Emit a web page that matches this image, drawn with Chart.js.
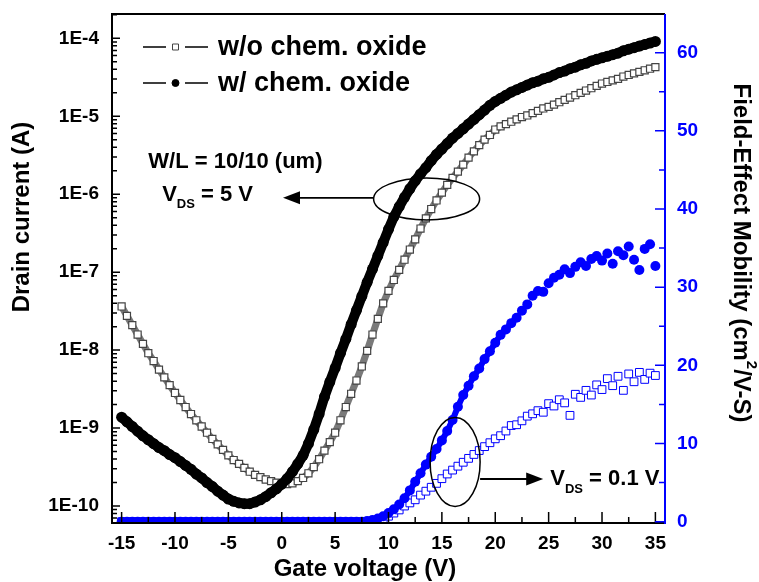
<!DOCTYPE html>
<html>
<head>
<meta charset="utf-8">
<script src="https://cdn.jsdelivr.net/npm/chart.js@4.4.0/dist/chart.umd.min.js"></script>
<style>
  html, body { margin: 0; padding: 0; background: #fff; }
</style>
</head>
<body>
<canvas id="chart" width="759" height="582"></canvas>
<script>
// gate sweep (V)
const gateVoltage = [
  -15, -14.5, -14, -13.5, -13, -12.5, -12, -11.5, -11, -10.5,
  -10, -9.5, -9, -8.5, -8, -7.5, -7, -6.5, -6, -5.5,
  -5, -4.5, -4, -3.5, -3, -2.5, -2, -1.5, -1, -0.5,
  0, 0.5, 1, 1.5, 2, 2.5, 3, 3.5, 4, 4.5,
  5, 5.5, 6, 6.5, 7, 7.5, 8, 8.5, 9, 9.5,
  10, 10.5, 11, 11.5, 12, 12.5, 13, 13.5, 14, 14.5,
  15, 15.5, 16, 16.5, 17, 17.5, 18, 18.5, 19, 19.5,
  20, 20.5, 21, 21.5, 22, 22.5, 23, 23.5, 24, 24.5,
  25, 25.5, 26, 26.5, 27, 27.5, 28, 28.5, 29, 29.5,
  30, 30.5, 31, 31.5, 32, 32.5, 33, 33.5, 34, 34.5,
  35
];

// drain current, read as log10(A)
const logDrainWithout = [
  -7.44, -7.56, -7.68, -7.80, -7.92, -8.04, -8.14, -8.25, -8.35, -8.45,
  -8.55, -8.64, -8.73, -8.82, -8.90, -8.98, -9.06, -9.14, -9.21, -9.28,
  -9.35, -9.41, -9.46, -9.51, -9.56, -9.60, -9.63, -9.66, -9.68, -9.70,
  -9.71, -9.72, -9.71, -9.68, -9.64, -9.58, -9.50, -9.40, -9.29, -9.18,
  -9.06, -8.90, -8.73, -8.56, -8.39, -8.21, -8.01, -7.80, -7.60, -7.40,
  -7.24, -7.10, -6.97, -6.84, -6.71, -6.58, -6.44, -6.31, -6.19, -6.08,
  -5.98, -5.88, -5.79, -5.71, -5.62, -5.53, -5.45, -5.37, -5.30, -5.24,
  -5.17, -5.13, -5.10, -5.07, -5.04, -5.01, -4.99, -4.96, -4.93, -4.90,
  -4.88, -4.85, -4.82, -4.79, -4.76, -4.73, -4.70, -4.67, -4.64, -4.61,
  -4.58, -4.56, -4.54, -4.52, -4.49, -4.47, -4.45, -4.43, -4.41, -4.39,
  -4.37
];
const logDrainWith = [
  -8.86, -8.92, -8.98, -9.04, -9.10, -9.15, -9.20, -9.25, -9.29, -9.34,
  -9.38, -9.43, -9.48, -9.53, -9.59, -9.64, -9.70, -9.75, -9.81, -9.86,
  -9.91, -9.94, -9.96, -9.97, -9.97, -9.95, -9.92, -9.88, -9.83, -9.78,
  -9.72, -9.65, -9.56, -9.46, -9.35, -9.20, -9.02, -8.82, -8.60, -8.41,
  -8.23, -8.04, -7.86, -7.67, -7.49, -7.31, -7.13, -6.96, -6.79, -6.62,
  -6.45, -6.29, -6.16, -6.04, -5.93, -5.83, -5.74, -5.66, -5.57, -5.49,
  -5.42, -5.35, -5.28, -5.22, -5.16, -5.10, -5.04, -4.98, -4.92, -4.86,
  -4.81, -4.77, -4.73, -4.69, -4.66, -4.63, -4.60, -4.57, -4.55, -4.52,
  -4.50, -4.47, -4.44, -4.42, -4.39, -4.37, -4.34, -4.32, -4.29, -4.27,
  -4.25, -4.23, -4.21, -4.19, -4.16, -4.14, -4.12, -4.10, -4.08, -4.06,
  -4.04
];

// field-effect mobility (cm2/V-s)
const mobilityWithout = [
  0, 0, 0, 0, 0, 0, 0, 0, 0, 0,
  0, 0, 0, 0, 0, 0, 0, 0, 0, 0,
  0, 0, 0, 0, 0, 0, 0, 0, 0, 0,
  0, 0, 0, 0, 0, 0, 0, 0, 0, 0,
  0, 0, 0, 0, 0, 0, 0, 0.1, 0.2, 0.4,
  0.7, 1.1, 1.5, 2.0, 2.4, 2.8, 3.4, 3.9, 4.4, 4.9,
  5.5, 6.1, 6.6, 7.1, 7.6, 8.1, 8.6, 9.1, 9.6, 10.1,
  10.6, 11.0, 11.6, 12.3, 12.4, 12.9, 13.5, 13.8, 14.2, 14.0,
  15.1, 14.8, 15.6, 15.2, 13.6, 16.3, 15.9, 16.8, 16.2, 17.5,
  16.9, 18.3, 17.4, 18.6, 16.8, 18.9, 17.9, 19.1, 18.2, 19.0,
  18.7
];
const mobilityWith = [
  0, 0, 0, 0, 0, 0, 0, 0, 0, 0,
  0, 0, 0, 0, 0, 0, 0, 0, 0, 0,
  0, 0, 0, 0, 0, 0, 0, 0, 0, 0,
  0, 0, 0, 0, 0, 0, 0, 0, 0, 0,
  0, 0, 0, 0, 0, 0, 0.1, 0.2, 0.4, 0.7,
  1.1, 1.6, 2.2, 3.0, 4.0, 5.1, 6.2, 7.3, 8.3, 9.3,
  10.4, 11.6, 13.0, 14.7, 16.2, 17.4, 18.6, 19.6, 20.8, 21.8,
  22.9, 23.9, 24.6, 25.4, 26.1, 27.0, 27.8, 28.9, 29.5, 29.4,
  30.5, 31.2, 31.6, 32.3, 31.8, 32.6, 33.2, 32.7, 33.6, 34.0,
  33.4, 34.3, 33.0, 34.6, 34.1, 35.2, 33.5, 32.2, 34.9, 35.5,
  32.7
];

const gateTicks = [-15, -10, -5, 0, 5, 10, 15, 20, 25, 30, 35];
const currentTicks = [1e-10, 1e-9, 1e-8, 1e-7, 1e-6, 1e-5, 1e-4];
const mobilityTicks = [0, 10, 20, 30, 40, 50, 60];

const FONT = "'Liberation Sans', Arial, sans-serif";
const BLUE = "#0000ff";

function toPoints(ys, fn) {
  return gateVoltage.map(function(v, i) {
    return { x: v, y: fn ? fn(ys[i]) : ys[i] };
  });
}
const fromLog = function(l) { return Math.pow(10, l); };

function noPadding(scale) {
  scale.paddingTop = 0;
  scale.paddingBottom = 0;
  scale.paddingLeft = 0;
  scale.paddingRight = 0;
}

// frame, inward ticks, legend, titles and annotations
const decorations = {
  id: "decorations",
  afterDatasetsDraw(chart) {
    const ctx = chart.ctx;
    const a = chart.chartArea;
    const sx = chart.scales.x, sy = chart.scales.y, sr = chart.scales.y1;
    ctx.save();

    // black frame (left, top, bottom)
    ctx.strokeStyle = "#000";
    ctx.lineWidth = 2;
    ctx.beginPath();
    ctx.moveTo(a.right, a.top);
    ctx.lineTo(a.left, a.top);
    ctx.lineTo(a.left, a.bottom);
    ctx.lineTo(a.right, a.bottom);
    ctx.stroke();

    // x ticks (inward, major + minor)
    ctx.lineWidth = 1.5;
    ctx.beginPath();
    sx.ticks.forEach(function(t, i) {
      const px = sx.getPixelForValue(t.value);
      ctx.moveTo(px, a.bottom);
      ctx.lineTo(px, a.bottom - 11);
      if (i < sx.ticks.length - 1) {
        const mx = sx.getPixelForValue((t.value + sx.ticks[i + 1].value) / 2);
        ctx.moveTo(mx, a.bottom);
        ctx.lineTo(mx, a.bottom - 6);
      }
    });
    ctx.stroke();

    // left log ticks
    ctx.beginPath();
    sy.ticks.forEach(function(t) {
      const py = sy.getPixelForValue(t.value);
      ctx.moveTo(a.left, py);
      ctx.lineTo(a.left + 8, py);
    });
    [1e-11].concat(currentTicks).forEach(function(dec) {
      for (let k = 2; k <= 9; k++) {
        const v = dec * k;
        if (v < sy.min || v > sy.max) continue;
        const py = sy.getPixelForValue(v);
        ctx.moveTo(a.left, py);
        ctx.lineTo(a.left + 5, py);
      }
    });
    ctx.stroke();

    // right blue axis
    ctx.strokeStyle = BLUE;
    ctx.lineWidth = 2;
    ctx.beginPath();
    ctx.moveTo(a.right, a.top);
    ctx.lineTo(a.right, a.bottom + 1);
    ctx.stroke();
    ctx.lineWidth = 1.5;
    ctx.beginPath();
    sr.ticks.forEach(function(t, i) {
      const py = sr.getPixelForValue(t.value);
      ctx.moveTo(a.right, py);
      ctx.lineTo(a.right - 10, py);
      if (i < sr.ticks.length - 1) {
        const my = sr.getPixelForValue((t.value + sr.ticks[i + 1].value) / 2);
        ctx.moveTo(a.right, my);
        ctx.lineTo(a.right - 6, my);
      }
    });
    ctx.stroke();

    // legend
    const ds = chart.data.datasets;
    const rows = [
      { d: ds[0], y: a.top + 33, text: "w/o chem. oxide" },
      { d: ds[1], y: a.top + 69, text: "w/ chem. oxide" }
    ];
    const lx = a.left + 31;
    rows.forEach(function(r) {
      ctx.strokeStyle = "#000";
      ctx.lineWidth = 1.5;
      ctx.beginPath();
      ctx.moveTo(lx, r.y); ctx.lineTo(lx + 23, r.y);
      ctx.moveTo(lx + 42, r.y); ctx.lineTo(lx + 65, r.y);
      ctx.stroke();
      ctx.fillStyle = r.d.pointBackgroundColor;
      ctx.strokeStyle = r.d.pointBorderColor;
      ctx.lineWidth = 1;
      ctx.beginPath();
      if (r.d.pointStyle === "rect") {
        ctx.rect(lx + 29.5, r.y - 3, 6, 6);
      } else {
        ctx.arc(lx + 32.5, r.y, 3.5, 0, Math.PI * 2);
      }
      ctx.fill();
      ctx.stroke();
      ctx.fillStyle = "#000";
      ctx.font = "bold 27px " + FONT;
      ctx.textAlign = "left";
      ctx.textBaseline = "middle";
      ctx.fillText(r.text, lx + 75, r.y + 1);
    });

    // axis titles
    ctx.fillStyle = "#000";
    ctx.font = "bold 24px " + FONT;
    ctx.textAlign = "center";
    ctx.textBaseline = "middle";
    ctx.fillText("Gate voltage (V)", 365, 569);
    ctx.save();
    ctx.translate(22, 217);
    ctx.rotate(-Math.PI / 2);
    ctx.fillText("Drain current (A)", 0, 0);
    ctx.restore();

    ctx.save();
    ctx.translate(741, 253);
    ctx.rotate(Math.PI / 2);
    const p1 = "Field-Effect Mobility (cm", p2 = "2", p3 = "/V-S)";
    ctx.font = "bold 24px " + FONT;
    const w1 = ctx.measureText(p1).width, w3 = ctx.measureText(p3).width;
    ctx.font = "bold 15px " + FONT;
    const w2 = ctx.measureText(p2).width;
    const cx = -(w1 + w2 + w3) / 2;
    ctx.textAlign = "left";
    ctx.font = "bold 24px " + FONT;
    ctx.fillText(p1, cx, 0);
    ctx.font = "bold 15px " + FONT;
    ctx.fillText(p2, cx + w1, -10);
    ctx.font = "bold 24px " + FONT;
    ctx.fillText(p3, cx + w1 + w2, 0);
    ctx.restore();

    // annotations (anchored in data units)
    function ellipse(xv, yPx, rx, ry) {
      ctx.strokeStyle = "#000";
      ctx.lineWidth = 1.5;
      ctx.beginPath();
      ctx.ellipse(sx.getPixelForValue(xv), yPx, rx, ry, 0, 0, Math.PI * 2);
      ctx.stroke();
    }
    function arrow(x1v, x2v, yPx) {
      const x1 = sx.getPixelForValue(x1v), x2 = sx.getPixelForValue(x2v);
      const dir = x2 > x1 ? 1 : -1;
      ctx.strokeStyle = "#000";
      ctx.fillStyle = "#000";
      ctx.lineWidth = 1.8;
      ctx.beginPath();
      ctx.moveTo(x1, yPx);
      ctx.lineTo(x2 - dir * 14, yPx);
      ctx.stroke();
      ctx.beginPath();
      ctx.moveTo(x2, yPx);
      ctx.lineTo(x2 - dir * 17, yPx - 6.5);
      ctx.lineTo(x2 - dir * 17, yPx + 6.5);
      ctx.closePath();
      ctx.fill();
    }
    function vds(xv, yPx, rest) {
      let x0 = sx.getPixelForValue(xv);
      ctx.fillStyle = "#000";
      ctx.textAlign = "left";
      ctx.textBaseline = "middle";
      ctx.font = "bold 22px " + FONT;
      ctx.fillText("V", x0, yPx);
      x0 += ctx.measureText("V").width;
      ctx.font = "bold 13px " + FONT;
      ctx.fillText("DS", x0, yPx + 10);
      x0 += ctx.measureText("DS").width;
      ctx.font = "bold 22px " + FONT;
      ctx.fillText(rest, x0, yPx);
    }

    ellipse(13.57, sy.getPixelForValue(8.7e-7), 53, 21);
    arrow(8.56, 0.12, sy.getPixelForValue(9e-7));
    ctx.fillStyle = "#000";
    ctx.font = "bold 22px " + FONT;
    ctx.textAlign = "left";
    ctx.textBaseline = "middle";
    ctx.fillText("W/L = 10/10 (um)", sx.getPixelForValue(-12.5), sy.getPixelForValue(2.6e-6));
    vds(-11.2, sy.getPixelForValue(9.8e-7), " = 5 V");

    ellipse(16.24, sr.getPixelForValue(7.64), 25, 44.5);
    arrow(18.58, 24.49, sr.getPixelForValue(5.46));
    vds(25.15, sr.getPixelForValue(5.46), " = 0.1 V");

    ctx.restore();
  }
};

const ctx = document.getElementById("chart").getContext("2d");
new Chart(ctx, {
  type: "scatter",
  data: {
    datasets: [
      {
        label: "w/o chem. oxide",
        data: toPoints(logDrainWithout, fromLog),
        yAxisID: "y",
        showLine: true,
        borderColor: "#7a7a7a",
        borderWidth: 7,
        pointStyle: "rect",
        pointRadius: 5,
        pointBorderWidth: 1.2,
        pointBorderColor: "#444444",
        pointBackgroundColor: "#ffffff",
        order: 4
      },
      {
        label: "w/ chem. oxide",
        data: toPoints(logDrainWith, fromLog),
        yAxisID: "y",
        showLine: true,
        borderColor: "#000000",
        borderWidth: 10,
        pointStyle: "circle",
        pointRadius: 5.5,
        pointBorderWidth: 0,
        pointBorderColor: "#000000",
        pointBackgroundColor: "#000000",
        order: 3
      },
      {
        label: "mobility w/o",
        data: toPoints(mobilityWithout),
        yAxisID: "y1",
        showLine: false,
        pointStyle: "rect",
        pointRadius: 5.5,
        pointBorderWidth: 1,
        pointBorderColor: BLUE,
        pointBackgroundColor: "#ffffff",
        order: 2
      },
      {
        label: "mobility w/",
        data: toPoints(mobilityWith),
        yAxisID: "y1",
        showLine: true,
        borderColor: BLUE,
        borderWidth: 6,
        segment: {
          // dense rising part reads as a band; the noisy top stays as loose dots
          borderColor: function(c) { return c.p0.parsed.x < 22 ? BLUE : "rgba(0,0,0,0)"; }
        },
        pointStyle: "circle",
        pointRadius: 5,
        pointBorderWidth: 0,
        pointBorderColor: BLUE,
        pointBackgroundColor: BLUE,
        order: 1
      }
    ]
  },
  options: {
    responsive: false,
    animation: false,
    layout: { padding: { top: 14, left: 0, right: 0, bottom: 0 } },
    plugins: {
      legend: { display: false },
      tooltip: { enabled: false }
    },
    scales: {
      x: {
        type: "linear",
        position: "bottom",
        min: -15.9,
        max: 35.9,
        grid: { display: false, drawTicks: false },
        border: { display: false },
        afterBuildTicks: function(scale) {
          scale.ticks = gateTicks.map(function(v) { return { value: v }; });
        },
        afterFit: function(scale) { scale.height = 59; noPadding(scale); },
        ticks: {
          padding: 9,
          color: "#000",
          font: { family: FONT, size: 19, weight: "bold" }
        }
      },
      y: {
        type: "logarithmic",
        position: "left",
        min: Math.pow(10, -10.218),
        max: Math.pow(10, -3.688),
        grid: { display: false, drawTicks: false },
        border: { display: false },
        afterBuildTicks: function(scale) {
          scale.ticks = currentTicks.map(function(v) { return { value: v }; });
        },
        afterFit: function(scale) { scale.width = 112; noPadding(scale); },
        ticks: {
          padding: 13,
          color: "#000",
          font: { family: FONT, size: 19, weight: "bold" },
          callback: function(v) { return "1E" + Math.round(Math.log10(v)); }
        }
      },
      y1: {
        type: "linear",
        position: "right",
        min: -0.17,
        max: 64.95,
        grid: { display: false, drawTicks: false },
        border: { display: false },
        afterBuildTicks: function(scale) {
          scale.ticks = mobilityTicks.map(function(v) { return { value: v }; });
        },
        afterFit: function(scale) { scale.width = 94; noPadding(scale); },
        ticks: {
          padding: 12,
          color: BLUE,
          font: { family: FONT, size: 19, weight: "bold" }
        }
      }
    }
  },
  plugins: [decorations]
});
</script>
</body>
</html>
